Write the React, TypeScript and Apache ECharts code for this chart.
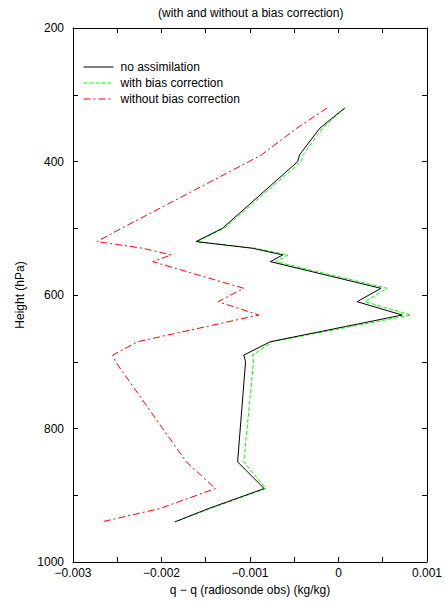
import React, { useEffect, useRef } from "react";
import * as echarts from "echarts";

const levels = [320, 350, 390, 400, 500, 520, 530, 540, 550, 590, 610, 630, 670, 690, 700, 850, 890, 920, 940];
const noAssim = [0.00007, -0.00021, -0.00044, -0.00046, -0.00131, -0.00161, -0.00097, -0.00063, -0.00077, 0.00048, 0.00021, 0.00072, -0.00077, -0.00107, -0.00105, -0.00114, -0.00084, -0.00147, -0.00185];
const withBias = [0.00007, -0.00018, -0.0004, -0.00042, -0.00129, -0.0016, -0.00094, -0.00057, -0.00071, 0.00055, 0.0003, 0.00082, -0.00075, -0.00097, -0.00096, -0.00107, -0.00082, -0.00145, -0.00185];
const withoutBias = [-0.00013, -0.00047, -0.00087, -0.00101, -0.00245, -0.00273, -0.00221, -0.00189, -0.0021, -0.00107, -0.00136, -0.0009, -0.00227, -0.00255, -0.00252, -0.00172, -0.00139, -0.00202, -0.00268];
const seriesNames = ["no assimilation", "with bias correction", "without bias correction"];
const xTickLabels: Record<string, string> = { "-3": "\u22120.003", "-2": "\u22120.002", "-1": "\u22120.001", "0": "0", "1": "0.001" };
const yTickLabels = [200, 400, 600, 800, 1000];

const FONT = "Liberation Sans, Arial, sans-serif";

export default function App() {
  const ref = useRef<HTMLDivElement>(null);
  useEffect(() => {
    if (!ref.current) return;
    const chart = echarts.init(ref.current, undefined, { renderer: "svg" });
    const pair = (xs: number[]) => xs.map((x, i) => [x, levels[i]]);
    const axisLine = { show: true, onZero: false, lineStyle: { color: "#000", width: 1 } };
    const tick = { show: true, inside: true, length: 5, lineStyle: { color: "#000", width: 1 } };
    const xFmt = (v: number) => {
      const k = v * 1000;
      const r = Math.round(k);
      if (Math.abs(k - r) < 1e-6) return xTickLabels[String(r)] ?? "";
      return "";
    };
    const yFmt = (v: number) => (yTickLabels.includes(Math.round(v)) && Math.abs(v - Math.round(v)) < 1e-6 ? String(Math.round(v)) : "");
    chart.setOption({
      animation: false,
      textStyle: { fontFamily: FONT },
      title: {
        text: "(with and without a bias correction)",
        left: 153,
        top: 2,
        textStyle: { fontSize: 12, fontWeight: "normal", color: "#000", fontFamily: FONT },
      },
      legend: {
        orient: "vertical",
        left: 83,
        top: 61,
        padding: 0,
        itemWidth: 30,
        itemHeight: 14,
        itemGap: 4,
        data: seriesNames,
        itemStyle: { opacity: 0, color: "transparent", borderWidth: 0 },
        lineStyle: { width: 1 },
        textStyle: { fontSize: 12, color: "#000", fontFamily: FONT, padding: [0, 0, 0, 2] },
      },
      grid: { left: 73, right: 16, top: 28, bottom: 42, containLabel: false },
      xAxis: [
        {
          type: "value",
          position: "bottom",
          min: -0.003,
          max: 0.001,
          interval: 0.0005,
          name: "q \u2212 q (radiosonde obs) (kg/kg)",
          nameLocation: "middle",
          nameGap: 22,
          nameTextStyle: { fontSize: 12, color: "#000", fontFamily: FONT },
          axisLine,
          axisTick: tick,
          splitLine: { show: false },
          axisLabel: { formatter: xFmt, fontSize: 12, color: "#000", margin: 5, fontFamily: FONT, showMinLabel: true, showMaxLabel: true },
        },
        {
          type: "value",
          position: "top",
          min: -0.003,
          max: 0.001,
          interval: 0.0005,
          axisLine,
          axisTick: tick,
          splitLine: { show: false },
          axisLabel: { show: false },
        },
      ],
      yAxis: [
        {
          type: "value",
          position: "left",
          inverse: true,
          min: 200,
          max: 1000,
          interval: 100,
          name: "Height (hPa)",
          nameLocation: "middle",
          nameGap: 46,
          nameTextStyle: { fontSize: 12, color: "#000", fontFamily: FONT },
          axisLine,
          axisTick: tick,
          splitLine: { show: false },
          axisLabel: { formatter: yFmt, fontSize: 12, color: "#000", margin: 9, fontFamily: FONT, showMinLabel: true, showMaxLabel: true },
        },
        {
          type: "value",
          position: "right",
          inverse: true,
          min: 200,
          max: 1000,
          interval: 100,
          axisLine,
          axisTick: tick,
          splitLine: { show: false },
          axisLabel: { show: false },
        },
      ],
      series: [
        {
          name: seriesNames[0],
          type: "line",
          data: pair(noAssim),
          symbol: "none",
          lineStyle: { color: "#000", width: 1, type: "solid" },
          itemStyle: { color: "#000" },
          z: 3,
        },
        {
          name: seriesNames[1],
          type: "line",
          data: pair(withBias),
          symbol: "none",
          lineStyle: { color: "#00ff00", width: 1, type: [4, 2] },
          itemStyle: { color: "#00ff00" },
          z: 2,
        },
        {
          name: seriesNames[2],
          type: "line",
          data: pair(withoutBias),
          symbol: "none",
          lineStyle: { color: "#ff0000", width: 1, type: [7, 3, 2, 3] },
          itemStyle: { color: "#ff0000" },
          z: 1,
        },
      ],
    });
    return () => chart.dispose();
  }, []);
  return <div ref={ref} style={{ position: "absolute", left: 0, top: 0, width: 445, height: 604 }} />;
}
